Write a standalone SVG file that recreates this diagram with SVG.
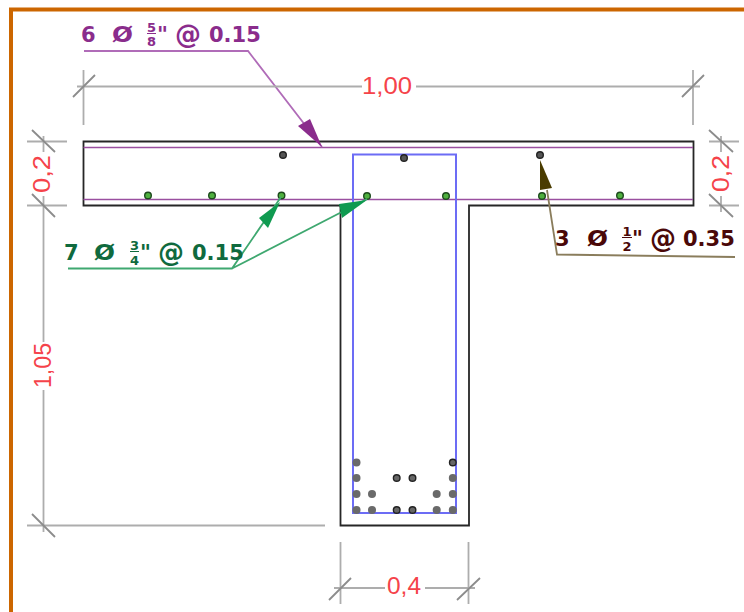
<svg xmlns="http://www.w3.org/2000/svg" width="744" height="612" viewBox="0 0 744 612">
<style>
.dim{stroke:#adadad;stroke-width:1.800;fill:none}
.tick{stroke:#8c8c8c;stroke-width:1.800;fill:none}
.red{font-family:"Liberation Sans",Arial,sans-serif;font-size:23px;fill:#f5434a}
.lab{font-family:"DejaVu Sans",sans-serif;font-weight:bold;font-size:21px}
.big{font-family:"DejaVu Sans",sans-serif;font-weight:bold;font-size:26px}
.fr{font-family:"DejaVu Sans",sans-serif;font-weight:bold;font-size:13px;text-anchor:middle}
.pur{fill:#8a2c8c}.grn{fill:#0f6a3e}.mar{fill:#4a0808}
.top{fill:#555;stroke:#222;stroke-width:1.400}
.gr{fill:#4fb03f;stroke:#1d4a1d;stroke-width:1.400}
.bot{fill:#6a6a6a}
.botd{fill:#666;stroke:#222;stroke-width:1.400}
</style>
<rect width="744" height="612" fill="#fff"/>
<path d="M11 612V9.500H744" fill="none" stroke="#cc6600" stroke-width="4"/>
<g id="beam">
<path d="M83.500 141.500H693.500V205.500H469V525.500H340.500V205.500H83.500Z" fill="none" stroke="#262626" stroke-width="1.800"/>
<path d="M83.500 147.500H693M83.500 199.500H693" fill="none" stroke="#9a4fa0" stroke-width="1.700"/>
<rect x="353" y="154.500" width="103" height="358.500" fill="none" stroke="#6c6cf5" stroke-width="2"/>
</g>
<g id="bars-top">
<circle class="top" cx="283" cy="155" r="3.300"/><circle class="top" cx="404" cy="158" r="3.300"/><circle class="top" cx="540" cy="155" r="3.300"/>
</g>
<g id="bars-slab">
<circle class="gr" cx="148" cy="195.500" r="3.300"/><circle class="gr" cx="212" cy="195.500" r="3.300"/><circle class="gr" cx="281.500" cy="195.500" r="3.300"/><circle class="gr" cx="367" cy="196" r="3.300"/><circle class="gr" cx="446" cy="196" r="3.300"/><circle class="gr" cx="542" cy="196" r="3.300"/><circle class="gr" cx="620" cy="195.500" r="3.300"/>
</g>
<g id="bars-web">
<circle class="bot" cx="356.500" cy="462.500" r="4"/><circle class="bot" cx="356.500" cy="478" r="4"/><circle class="bot" cx="356.500" cy="494" r="4"/><circle class="bot" cx="356.500" cy="510" r="4"/>
<circle class="bot" cx="372" cy="494" r="4"/><circle class="bot" cx="372" cy="510" r="4"/>
<circle class="botd" cx="396.700" cy="478" r="3.300"/><circle class="botd" cx="396.700" cy="510" r="3.300"/><circle class="botd" cx="412.500" cy="478" r="3.300"/><circle class="botd" cx="412.500" cy="510" r="3.300"/>
<circle class="bot" cx="436.700" cy="494" r="4"/><circle class="bot" cx="436.700" cy="510" r="4"/>
<circle class="botd" cx="452.800" cy="462.500" r="3.300"/><circle class="bot" cx="452.800" cy="478" r="4"/><circle class="bot" cx="452.800" cy="494" r="4"/><circle class="bot" cx="452.800" cy="510" r="4"/>
</g>
<g id="connectors">
<path d="M84 51H248L322 147" fill="none" stroke="#b06cb8" stroke-width="1.800"/>
<path d="M298 126L310 119L322 147Z" fill="#8a2c8c"/>
<path d="M68 268.500H232L281 197M232 268.500L367 199" fill="none" stroke="#3fa870" stroke-width="1.800"/>
<path d="M259 218L268 228L280 202Z" fill="#0f9a50"/>
<path d="M339 204L342 218L367 200Z" fill="#0f9a50"/>
<path d="M547 190L557 254.500L735 257" fill="none" stroke="#8a7d5c" stroke-width="1.800"/>
<path d="M540 160L540 190L552 188Z" fill="#4a3c00"/>
</g>
<g id="dim-top">
<path class="dim" d="M77 86.500H362M416 86.500H700M83.500 70V125M693 70V125"/>
<path class="tick" d="M73 97L95 75M682 97L704 75"/>
<text class="red" x="362" y="94" textLength="50" lengthAdjust="spacingAndGlyphs">1,00</text>
</g>
<g id="dim-left">
<path class="dim" d="M27 141.500H67M27 205.500H67M43.500 136V152M43.500 196V342M43.500 390V532M27 525.500H325"/>
<path class="tick" d="M32 130L55 152M32 194L55 217M32 514L55 537"/>
<text class="red" transform="translate(50 193) rotate(-90)" textLength="38" lengthAdjust="spacingAndGlyphs">0,2</text>
<text class="red" transform="translate(51 388) rotate(-90)" textLength="45" lengthAdjust="spacingAndGlyphs">1,05</text>
</g>
<g id="dim-right">
<path class="dim" d="M709 141.500H739M709 205.500H739M721 136V152M721 196V212"/>
<path class="tick" d="M709 130L733 152M709 194L733 217"/>
<text class="red" transform="translate(729 192) rotate(-90)" textLength="37" lengthAdjust="spacingAndGlyphs">0,2</text>
</g>
<g id="dim-bottom">
<path class="dim" d="M340.500 542V604M468.500 542V604M334 588H385M425 588H475"/>
<path class="tick" d="M329 600L351 578M457 600L480 578"/>
<text class="red" x="387" y="594" textLength="34" lengthAdjust="spacingAndGlyphs">0,4</text>
</g>
<g id="label-purple" class="pur">
<text class="lab" x="81" y="41.500">6</text><text class="lab" x="112" y="41.500" textLength="21" lengthAdjust="spacingAndGlyphs">Ø</text>
<text class="fr" x="151.500" y="32">5</text><text class="fr" x="151.500" y="46">8</text><rect x="147" y="33" width="9" height="1"/>
<text class="lab" x="157" y="41.500">"</text><text class="big" x="175" y="43" textLength="26" lengthAdjust="spacingAndGlyphs">@</text><text class="lab" x="209" y="41.500">0.15</text>
</g>
<g id="label-green" class="grn">
<text class="lab" x="64" y="259.500">7</text><text class="lab" x="94" y="259.500" textLength="21" lengthAdjust="spacingAndGlyphs">Ø</text>
<text class="fr" x="134.500" y="250">3</text><text class="fr" x="134.500" y="264.500">4</text><rect x="130" y="251" width="9" height="1"/>
<text class="lab" x="140" y="259.500">"</text><text class="big" x="158" y="261" textLength="26" lengthAdjust="spacingAndGlyphs">@</text><text class="lab" x="192" y="259.500">0.15</text>
</g>
<g id="label-maroon" class="mar">
<text class="lab" x="555" y="245.500">3</text><text class="lab" x="587" y="245.500" textLength="21" lengthAdjust="spacingAndGlyphs">Ø</text>
<text class="fr" x="627" y="236">1</text><text class="fr" x="627" y="250.500">2</text><rect x="622" y="237" width="10" height="1"/>
<text class="lab" x="632" y="245.500">"</text><text class="big" x="650" y="247" textLength="26" lengthAdjust="spacingAndGlyphs">@</text><text class="lab" x="683" y="245.500">0.35</text>
</g>
</svg>
